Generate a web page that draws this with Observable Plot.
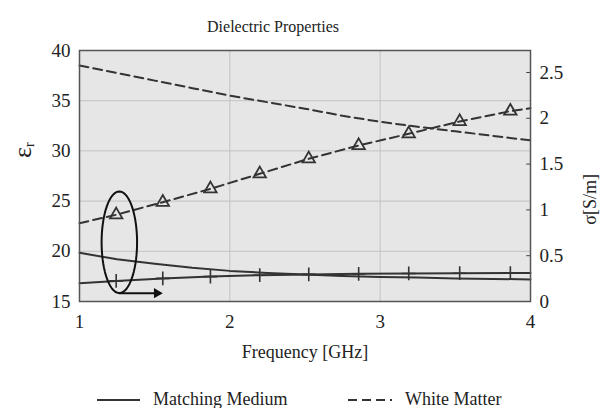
<!DOCTYPE html>
<html>
<head>
<meta charset="utf-8">
<script src="https://cdn.jsdelivr.net/npm/d3@7"></script>
<script src="https://cdn.jsdelivr.net/npm/@observablehq/plot@0.6"></script>
<style>
  body { margin: 0; background: white; }
  #wrap { position: relative; width: 606px; height: 408px; overflow: hidden; font-family: "Liberation Serif", "Times New Roman", serif; color: #222; }
  #wrap > svg { display: block; }
  #legend { position: absolute; left: 0; top: 380px; width: 606px; height: 28px; font-size: 18px; }
  #legend svg { position: absolute; left: 0; top: 0; display: block; }
  #legend span { position: absolute; top: 9px; line-height: 20px; white-space: nowrap; }
</style>
</head>
<body>
<div id="wrap"></div>
<script>
// ---- data ----
const freq = [1, 1.25, 1.5, 1.75, 2, 2.25, 2.5, 2.75, 3, 3.25, 3.5, 3.75, 4];
const epsWhite = [38.5, 37.75, 37.0, 36.25, 35.5, 34.85, 34.2, 33.5, 32.9, 32.4, 31.95, 31.5, 31.05];
const epsMatch = [19.85, 19.2, 18.75, 18.35, 18.05, 17.85, 17.7, 17.55, 17.45, 17.38, 17.3, 17.25, 17.2];

const sigFreq = [1, 1.244, 1.554, 1.871, 2.199, 2.525, 2.857, 3.19, 3.529, 3.866, 4];
const sigWhite = [0.855, 0.947, 1.084, 1.23, 1.394, 1.558, 1.703, 1.831, 1.965, 2.078, 2.11];
const sigMatch = [0.2, 0.225, 0.252, 0.272, 0.287, 0.296, 0.302, 0.306, 0.309, 0.311, 0.312];
const markerIdx = [1, 2, 3, 4, 5, 6, 7, 8, 9];

const xTicks = [1, 2, 3, 4];
const epsTicks = [15, 20, 25, 30, 35, 40];
const sigTicks = [0, 0.5, 1, 1.5, 2, 2.5];
const epsDomain = [15, 40];
const sigDomain = [0, 2.74];

const titleText = "Dielectric Properties";
const xLabel = "Frequency [GHz]";
const yLabel = "εr";
const y2Label = "σ[S/m]";
const seriesNames = ["Matching Medium", "White Matter"];

// annotation (ellipse + arrow, in data units)
const ellipse = {cx: 1.265, cy: 20.9, rx: 0.118, ry: 5.06};
const arrow = {x1: 1.26, x2: 1.515, y: 15.83};

// ---- helpers ----
const K = (epsDomain[1] - epsDomain[0]) / (sigDomain[1] - sigDomain[0]);
const toLeft = s => epsDomain[0] + (s - sigDomain[0]) * K;
const fromLeft = v => sigDomain[0] + (v - epsDomain[0]) / K;

const epsW = freq.map((f, i) => ({x: f, y: epsWhite[i]}));
const epsM = freq.map((f, i) => ({x: f, y: epsMatch[i]}));
const sigW = sigFreq.map((f, i) => ({x: f, y: toLeft(sigWhite[i])}));
const sigM = sigFreq.map((f, i) => ({x: f, y: toLeft(sigMatch[i])}));
const sigWm = markerIdx.map(i => sigW[i]);
const sigMm = markerIdx.map(i => sigM[i]);
const ell = d3.range(0, 73).map(k => {
  const t = k / 72 * 2 * Math.PI;
  return {x: ellipse.cx + ellipse.rx * Math.cos(t), y: ellipse.cy + ellipse.ry * Math.sin(t)};
});

const ink = "#333";
const dash = "9,5";

const plot = Plot.plot({
  width: 606,
  height: 380,
  marginTop: 50,
  marginLeft: 79,
  marginRight: 76,
  marginBottom: 79,
  x: {domain: [1, 4], label: null},
  y: {domain: epsDomain, label: null},
  style: {fontFamily: '"Liberation Serif", "Times New Roman", serif', fontSize: "19px", color: "#222", background: "white"},
  marks: [
    Plot.frame({fill: "#e6e6e6", stroke: null}),
    Plot.gridX(xTicks.slice(1, -1), {stroke: "#c2c2c2", strokeOpacity: 1}),
    Plot.gridY(epsTicks.slice(1, -1), {stroke: "#c2c2c2", strokeOpacity: 1}),
    Plot.axisX(xTicks, {tickSize: 0, tickPadding: 13, fontSize: 19, tickFormat: d => String(d)}),
    Plot.axisY(epsTicks, {anchor: "left", tickSize: 0, tickPadding: 9, fontSize: 19, tickFormat: d => String(d)}),
    Plot.axisY(sigTicks.map(toLeft), {anchor: "right", tickSize: 0, tickPadding: 9, fontSize: 19,
      tickFormat: d => String(Math.round(fromLeft(d) * 10) / 10)}),
    Plot.ruleY(sigTicks.map(toLeft), {x1: 3.975, x2: 4, stroke: "#444"}),
    // White matter (dashed)
    Plot.line(epsW, {x: "x", y: "y", stroke: ink, strokeWidth: 2, strokeDasharray: dash}),
    Plot.line(sigW, {x: "x", y: "y", stroke: ink, strokeWidth: 2, strokeDasharray: dash}),
    Plot.dot(sigWm, {x: "x", y: "y", symbol: "triangle", r: 4.6, stroke: ink, strokeWidth: 1.8, fill: "none"}),
    // Matching medium (solid)
    Plot.line(epsM, {x: "x", y: "y", stroke: ink, strokeWidth: 2}),
    Plot.line(sigM, {x: "x", y: "y", stroke: ink, strokeWidth: 2}),
    Plot.dot(sigMm, {x: "x", y: "y", symbol: "plus", r: 4.5, stroke: ink, strokeWidth: 1.6}),
    // annotation
    Plot.line(ell, {x: "x", y: "y", stroke: "#111", strokeWidth: 2, curve: "linear"}),
    Plot.link([arrow], {x1: "x1", x2: "x2", y1: "y", y2: "y", stroke: "#111", strokeWidth: 2}),
    Plot.dot([arrow], {x: "x2", y: "y", symbol: "triangle", r: 3.8, rotate: 90, fill: "#111", stroke: "none"}),
    Plot.frame({stroke: "#555", strokeWidth: 1.5}),
    // texts
    Plot.text([titleText], {frameAnchor: "top", dy: -30, dx: -32, fontSize: 16}),
    Plot.text([xLabel], {frameAnchor: "bottom", dy: 56, fontSize: 18}),
    Plot.text([yLabel], {frameAnchor: "left", dx: -57, dy: -18, rotate: -90, fontSize: 26}),
    Plot.text([y2Label], {frameAnchor: "right", dx: 60, dy: -2, rotate: -90, fontSize: 18})
  ]
});

// subscript r in epsilon label
d3.select(plot).selectAll("text").filter(function() { return this.textContent === yLabel; })
  .each(function() {
    const t = d3.select(this);
    t.text("ε");
    t.append("tspan").attr("font-size", "14px").attr("dy", "0.25em").text("r");
  });

const wrap = document.getElementById("wrap");
wrap.appendChild(plot);

// legend
const legend = document.createElement("div");
legend.id = "legend";
legend.innerHTML = `
  <svg width="606" height="28">
    <line x1="97" y1="20" x2="140" y2="20" stroke="${ink}" stroke-width="2"/>
    <line x1="348" y1="20" x2="392" y2="20" stroke="${ink}" stroke-width="2" stroke-dasharray="9,5"/>
  </svg>
  <span style="left:153px">${seriesNames[0]}</span>
  <span style="left:405px">${seriesNames[1]}</span>`;
wrap.appendChild(legend);
</script>
</body>
</html>
